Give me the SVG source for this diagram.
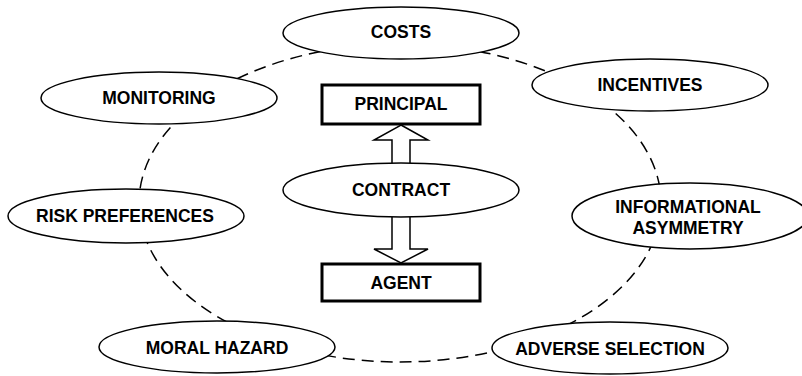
<svg xmlns="http://www.w3.org/2000/svg" width="802" height="376" viewBox="0 0 802 376">
<style>
.bg{fill:#ffffff}
.node{fill:#ffffff;stroke:#000000;stroke-width:1.5}
.box{fill:#ffffff;stroke:#000000;stroke-width:3}
.ring{fill:none;stroke:#000000;stroke-width:1.5;stroke-dasharray:12 7}
.arrow{fill:#ffffff;stroke:#000000;stroke-width:1.5;stroke-linejoin:miter}
text{font-family:"Liberation Sans",Arial,Helvetica,sans-serif;font-weight:bold;font-size:17.5px;fill:#000000;text-anchor:middle}
</style>
<rect class="bg" x="0" y="0" width="802" height="376"/>
<g id="connectors">
<ellipse class="ring" cx="400" cy="203" rx="261" ry="159"/>
<polygon class="arrow" points="401,125 428,140 410,140 410,172 392,172 392,140 374,140"/>
<polygon class="arrow" points="392,208 410,208 410,249 428,249 401,263 374,249 392,249"/>
</g>
<g id="costs"><ellipse class="node" cx="401" cy="33" rx="118" ry="26"/><text x="401" y="38">COSTS</text></g>
<g id="monitoring"><ellipse class="node" cx="159" cy="98" rx="118" ry="26"/><text x="159" y="104">MONITORING</text></g>
<g id="incentives"><ellipse class="node" cx="650" cy="85" rx="118" ry="26"/><text x="650" y="91">INCENTIVES</text></g>
<g id="risk-preferences"><ellipse class="node" cx="126" cy="216" rx="118" ry="27"/><text x="125" y="222">RISK PREFERENCES</text></g>
<g id="informational-asymmetry"><ellipse class="node" cx="690" cy="216" rx="118" ry="33"/><text x="688" y="213">INFORMATIONAL</text><text x="688" y="234">ASYMMETRY</text></g>
<g id="moral-hazard"><ellipse class="node" cx="217" cy="347" rx="118" ry="26"/><text x="217" y="354">MORAL HAZARD</text></g>
<g id="adverse-selection"><ellipse class="node" cx="610" cy="348" rx="118" ry="26"/><text x="610" y="355">ADVERSE SELECTION</text></g>
<g id="principal"><rect class="box" x="322" y="85" width="158" height="39"/><text x="401" y="110">PRINCIPAL</text></g>
<g id="contract"><ellipse class="node" cx="401" cy="190" rx="118" ry="27"/><text x="401" y="196">CONTRACT</text></g>
<g id="agent"><rect class="box" x="322" y="264" width="158" height="37"/><text x="401" y="289">AGENT</text></g>
</svg>
